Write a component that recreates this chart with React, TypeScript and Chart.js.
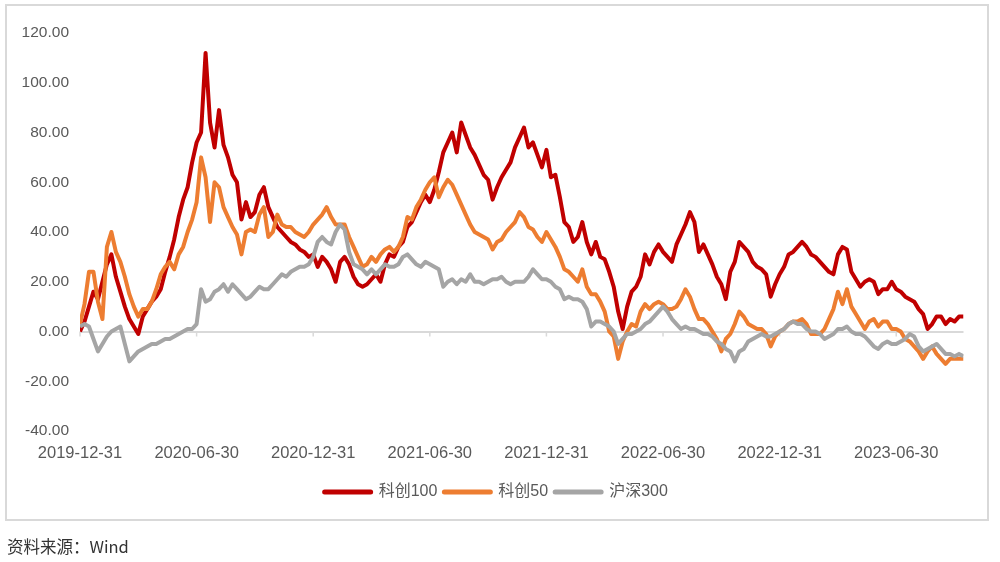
import React, { useEffect, useRef } from "react";
import { Chart, registerables } from "chart.js";

Chart.register(...registerables);

// weekly samples starting 2019-12-31 (index = week number)
const tickWeeks = [0, 26, 52, 78, 104, 130, 156, 182];
const tickLabels = [
  "2019-12-31",
  "2020-06-30",
  "2020-12-31",
  "2021-06-30",
  "2021-12-31",
  "2022-06-30",
  "2022-12-31",
  "2023-06-30",
];
const seriesNames = ["科创100", "科创50", "沪深300"];
const seriesColors = ["#C00000", "#ED7D31", "#A5A5A5"];

const kc100 = [
  0, 4, 10, 16, 13, 20, 27, 31, 22, 16,
  10, 5, 2, -1, 6, 9, 12, 14, 17, 24,
  30, 37, 46, 53, 58, 68, 76, 80, 112, 84,
  74, 89, 75, 70, 63, 60, 45, 52, 46, 48,
  55, 58, 50, 46, 42, 40, 38, 36, 35, 33,
  32, 30, 31, 26, 30, 28, 25, 20, 28, 30,
  27, 22, 19, 18, 19, 21, 23, 20, 27, 31,
  30, 34, 36, 42, 44, 48, 52, 55, 52, 57,
  64, 72, 76, 80, 72, 84, 79, 74, 71, 67,
  63, 61, 53, 58, 62, 65, 68, 74, 78, 82,
  74, 76, 71, 66, 73, 62, 63, 54, 44, 42,
  36, 38, 44, 36, 31, 36, 30, 29, 24, 18,
  8, 1, 10, 16, 18, 22, 31, 27, 32, 35,
  32, 30, 28, 35, 39, 43, 48, 44, 32, 35,
  31, 27, 22, 19, 13, 24, 28, 36, 34, 32,
  28, 26, 25, 23, 14, 19, 23, 26, 31, 32,
  34, 36, 34, 31, 30, 28, 26, 24, 23, 31,
  34, 33, 24, 21, 18, 20, 21, 20, 15, 17,
  17, 20, 17, 16, 14, 13, 12, 9, 7, 1,
  3, 6, 6, 3, 5, 4, 6, 6,
];

const kc50 = [
  3, 11, 24, 24, 12, 5, 34, 40, 32, 28,
  22, 15, 10, 6, 9, 9, 12, 17, 23, 26,
  28, 25, 31, 34, 40, 45, 52, 70, 62, 44,
  60, 58, 50, 46, 42, 39, 31, 40, 41, 40,
  47, 50, 38, 40, 47, 43, 42, 42, 40, 39,
  38, 40, 43, 45, 47, 50, 46, 43, 43, 43,
  38, 34, 30, 26, 27, 30, 28, 31, 33, 34,
  32, 34, 38, 46, 45, 50, 53, 57, 60, 62,
  54, 58, 61, 59, 55, 51, 47, 43, 40, 39,
  38, 37, 33, 36, 37, 40, 42, 44, 48, 46,
  42, 41, 38, 36, 40, 37, 34, 30, 25, 24,
  22, 20, 25, 18, 15, 15, 12, 8, 0, -2,
  -11, -4, 0, 3, 2, 8, 11, 9, 11, 12,
  11, 9, 9, 10, 13, 17, 14, 9, 5, 5,
  3, 0, -3, -8, -3, -1, 3, 8, 6, 3,
  2, 1, 1, -1, -6, -2, 0, 1, 3, 4,
  4, 5, 3, -1, -1, -1, 1, 5, 9, 16,
  11, 17, 10, 7, 4, 1, 4, 5, 2, 4,
  4, 1, 1, 0, -3, -4, -6, -8, -11, -8,
  -6, -9, -11, -13, -11, -11, -11, -11,
];

const hs300 = [
  2, 3, 2, -3, -8, -5, -2, 0, 1, 2,
  -5, -12, -10, -8, -7, -6, -5, -5, -4, -3,
  -3, -2, -1, 0, 1, 1, 3, 17, 12, 13,
  16, 17, 19, 16, 19, 17, 15, 13, 14, 16,
  18, 17, 17, 19, 21, 23, 22, 24, 25, 26,
  26, 27, 30, 36, 38, 36, 35, 40, 43, 41,
  32, 27, 26, 25, 23, 25, 23, 25, 27, 26,
  26, 27, 30, 31, 29, 27, 26, 28, 27, 26,
  25, 18, 20, 21, 19, 21, 20, 23, 20, 20,
  19, 20, 21, 21, 22, 20, 19, 20, 20, 20,
  22, 25, 23, 21, 21, 20, 18, 17, 13, 14,
  13, 13, 12, 9, 2, 4, 4, 3, 2, 0,
  -5, -3, -1, -1, 0, 1, 3, 4, 6, 8,
  10, 8, 5, 3, 1, 2, 1, 1, 0, -1,
  -1, -2, -4, -5, -7, -8, -12, -8, -7, -4,
  -3, -2, -1, -2, -2, -1, 0, 1, 3, 4,
  3, 3, 1, 0, 0, -1, -3, -2, -1, 1,
  1, 2, 0, -1, -1, -2, -4, -6, -7, -5,
  -4, -5, -5, -4, -3, -1, -2, -6, -8, -7,
  -6, -5, -7, -9, -9, -10, -9, -10,
];

const weekIndex = kc100.map((_, i) => i);

const LINE_GRAY = "#D9D9D9";
const TEXT_GRAY = "#595959";

const zeroTickPlugin = {
  id: "zeroTicks",
  beforeDatasetsDraw(chart: any) {
    const { ctx, scales } = chart;
    const y0 = scales.y.getPixelForValue(0);
    ctx.save();
    ctx.strokeStyle = LINE_GRAY;
    ctx.lineWidth = 1.5;
    tickWeeks.forEach((w) => {
      const x = scales.x.getPixelForValue(w);
      ctx.beginPath();
      ctx.moveTo(x, y0);
      ctx.lineTo(x, y0 + 5);
      ctx.stroke();
    });
    ctx.restore();
  },
};

// nudges the centred legend to sit under the middle of the plot, as in the source
const legendShiftPlugin = {
  id: "legendShift",
  afterLayout(chart: any) {
    if (chart.legend) chart.legend.left += 29;
  },
};

export default function App() {
  const ref = useRef<HTMLCanvasElement>(null);

  useEffect(() => {
    const series = [kc100, kc50, hs300];
    const chart = new Chart(ref.current!, {
      type: "line",
      data: {
        labels: weekIndex,
        datasets: series.map((s, i) => ({
          label: seriesNames[i],
          data: s,
          borderColor: seriesColors[i],
          backgroundColor: seriesColors[i],
          borderWidth: 4,
          pointRadius: 0,
          tension: 0,
          borderJoinStyle: "round" as const,
          order: 3 - i,
        })),
      },
      options: {
        animation: false,
        responsive: true,
        maintainAspectRatio: false,
        layout: { padding: { left: 0, top: 33, right: 36.5, bottom: 52 } },
        plugins: {
          tooltip: { enabled: false },
          legend: {
            position: "bottom",
            labels: {
              usePointStyle: true,
              pointStyle: "line",
              pointStyleWidth: 46,
              padding: 7,
              color: TEXT_GRAY,
              font: { family: '"Liberation Sans", "Noto Sans CJK SC", sans-serif', size: 16 },
              sort: (a: any, b: any) => a.datasetIndex - b.datasetIndex,
              generateLabels: (c: any) =>
                (Chart.defaults.plugins.legend.labels as any)
                  .generateLabels(c)
                  .map((l: any) => ({ ...l, lineWidth: 5, lineCap: "round" })),
            },
          },
        },
        scales: {
          x: {
            type: "linear",
            min: 0,
            max: weekIndex[weekIndex.length - 1],
            grid: { display: false, drawTicks: false },
            border: { display: false },
            afterBuildTicks: (axis: any) => {
              axis.ticks = tickWeeks.map((v) => ({ value: v }));
            },
            afterFit: (axis: any) => {
              axis.height = 46;
            },
            ticks: {
              autoSkip: false,
              maxRotation: 0,
              padding: 13,
              color: TEXT_GRAY,
              font: { family: '"Liberation Sans", sans-serif', size: 16.5 },
              callback: (value: any) => {
                const k = tickWeeks.indexOf(Number(value));
                return k >= 0 ? tickLabels[k] : "";
              },
            },
          },
          y: {
            min: -40,
            max: 120,
            afterFit: (axis: any) => {
              axis.width = 80;
            },
            border: { display: false },
            grid: {
              drawTicks: false,
              lineWidth: 2,
              color: (ctx: any) => (ctx.tick && ctx.tick.value === 0 ? LINE_GRAY : "rgba(0,0,0,0)"),
            },
            ticks: {
              stepSize: 20,
              padding: 11,
              color: TEXT_GRAY,
              font: { family: '"Liberation Sans", sans-serif', size: 15.5 },
              callback: (value: any) => Number(value).toFixed(2),
            },
          },
        },
      },
      plugins: [zeroTickPlugin, legendShiftPlugin],
    });
    return () => chart.destroy();
  }, []);

  return (
    <>
      <div style={{ position: "absolute", left: 0, top: 0, width: 1000, height: 562 }}>
        <canvas ref={ref} />
      </div>
      <div
        style={{
          position: "absolute",
          left: 5,
          top: 4,
          width: 984,
          height: 517,
          border: "2px solid #D9D9D9",
          boxSizing: "border-box",
          pointerEvents: "none",
        }}
      />
      <div
        style={{
          position: "absolute",
          left: 7,
          top: 536,
          lineHeight: "20px",
          fontSize: 16.5,
          fontFamily: '"Noto Sans CJK SC", sans-serif',
          color: "#333333",
          whiteSpace: "nowrap",
        }}
      >
        资料来源：Wind
      </div>
    </>
  );
}
